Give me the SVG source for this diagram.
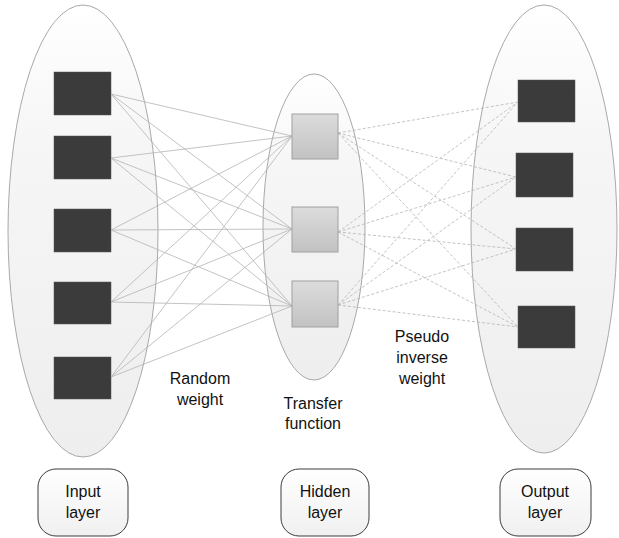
<svg xmlns="http://www.w3.org/2000/svg" width="619" height="538" viewBox="0 0 619 538">
<defs>
<linearGradient id="ell" x1="0" y1="0" x2="0" y2="1">
<stop offset="0" stop-color="#ffffff"/>
<stop offset="0.3" stop-color="#f6f6f6"/>
<stop offset="1" stop-color="#eeeeee"/>
</linearGradient>
<linearGradient id="hid" x1="0" y1="0" x2="0" y2="1">
<stop offset="0" stop-color="#dcdcdc"/>
<stop offset="1" stop-color="#c2c2c2"/>
</linearGradient>
<linearGradient id="lbl" x1="0" y1="0" x2="0" y2="1">
<stop offset="0" stop-color="#ffffff"/>
<stop offset="1" stop-color="#f0f0f0"/>
</linearGradient>
</defs>
<style>
.ell{fill:url(#ell);stroke:#a9a9a9;stroke-width:1}
.dark{fill:#3b3b3b;stroke:#555;stroke-width:0.5}
.hsq{fill:url(#hid);stroke:#a0a0a0;stroke-width:1}
.box{fill:url(#lbl);stroke:#3c3c3c;stroke-width:1}
.txt{font-family:"Liberation Sans",Arial,sans-serif;font-size:16px;fill:#111;text-anchor:middle}
.solid line{stroke:#b4b4b4;stroke-width:0.8}
.dash line{stroke:#b4b4b4;stroke-width:0.8;stroke-dasharray:3 2}
</style>
<g id="input-layer">
<ellipse class="ell" cx="83" cy="231" rx="75" ry="226"/>
<rect class="dark" x="54" y="72" width="57" height="43"/>
<rect class="dark" x="54" y="136" width="57" height="43"/>
<rect class="dark" x="54" y="209" width="57" height="43"/>
<rect class="dark" x="54" y="282" width="57" height="42"/>
<rect class="dark" x="54" y="357" width="57" height="42"/>
</g>
<g id="hidden-layer">
<ellipse class="ell" cx="314" cy="227" rx="51" ry="153"/>
</g>
<g id="output-layer">
<ellipse class="ell" cx="544" cy="229" rx="73" ry="224"/>
<rect class="dark" x="518" y="80" width="57" height="42"/>
<rect class="dark" x="516" y="153" width="57" height="44"/>
<rect class="dark" x="516" y="228" width="57" height="43"/>
<rect class="dark" x="518" y="306" width="57" height="42"/>
</g>
<g id="connectors">
<g class="solid">
<line x1="111" y1="94" x2="292" y2="136"/><line x1="111" y1="94" x2="292" y2="229"/><line x1="111" y1="94" x2="292" y2="306"/>
<line x1="111" y1="158" x2="292" y2="136"/><line x1="111" y1="158" x2="292" y2="229"/><line x1="111" y1="158" x2="292" y2="306"/>
<line x1="111" y1="230" x2="292" y2="136"/><line x1="111" y1="230" x2="292" y2="229"/><line x1="111" y1="230" x2="292" y2="306"/>
<line x1="111" y1="302" x2="292" y2="136"/><line x1="111" y1="302" x2="292" y2="229"/><line x1="111" y1="302" x2="292" y2="306"/>
<line x1="111" y1="377" x2="292" y2="136"/><line x1="111" y1="377" x2="292" y2="229"/><line x1="111" y1="377" x2="292" y2="306"/>
</g>
<g class="dash">
<line x1="338" y1="133" x2="518" y2="102"/><line x1="338" y1="133" x2="516" y2="177"/><line x1="338" y1="133" x2="516" y2="249"/><line x1="338" y1="133" x2="518" y2="327"/>
<line x1="338" y1="232" x2="518" y2="102"/><line x1="338" y1="232" x2="516" y2="177"/><line x1="338" y1="232" x2="516" y2="249"/><line x1="338" y1="232" x2="518" y2="327"/>
<line x1="338" y1="305" x2="518" y2="102"/><line x1="338" y1="305" x2="516" y2="177"/><line x1="338" y1="305" x2="516" y2="249"/><line x1="338" y1="305" x2="518" y2="327"/>
</g>
</g>
<g id="hidden-nodes">
<rect class="hsq" x="292" y="114" width="46" height="45"/>
<rect class="hsq" x="292" y="207" width="46" height="45"/>
<rect class="hsq" x="292" y="281" width="46" height="46"/>
</g>
<g id="labels">
<text class="txt" x="200" y="384">Random</text>
<text class="txt" x="200" y="405">weight</text>
<text class="txt" x="313" y="409">Transfer</text>
<text class="txt" x="313" y="429">function</text>
<text class="txt" x="422" y="342">Pseudo</text>
<text class="txt" x="422" y="363">inverse</text>
<text class="txt" x="422" y="384">weight</text>
</g>
<g id="input-label">
<rect class="box" x="38" y="469" width="90" height="67" rx="18"/>
<text class="txt" x="83" y="497">Input</text>
<text class="txt" x="83" y="518">layer</text>
</g>
<g id="hidden-label">
<rect class="box" x="281" y="469" width="88" height="67" rx="18"/>
<text class="txt" x="325" y="497">Hidden</text>
<text class="txt" x="325" y="518">layer</text>
</g>
<g id="output-label">
<rect class="box" x="500" y="469" width="91" height="67" rx="18"/>
<text class="txt" x="545" y="497">Output</text>
<text class="txt" x="545" y="518">layer</text>
</g>
</svg>
